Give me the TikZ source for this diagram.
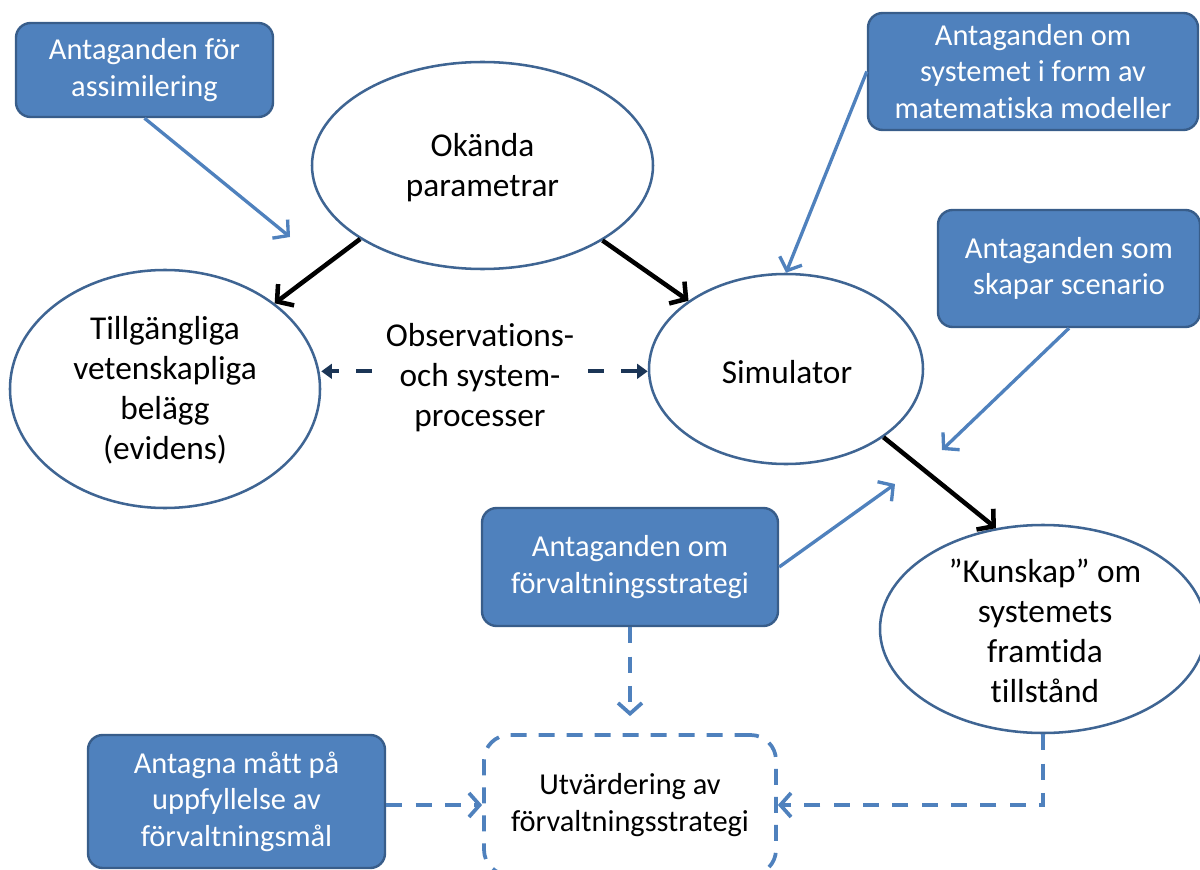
\documentclass[tikz,border=0pt]{standalone}
\usepackage{fontspec}
\setmainfont{Carlito}[Ligatures=NoCommon]
\usetikzlibrary{shapes.geometric,arrows.meta}
\definecolor{boxblue}{HTML}{4F81BD}
\definecolor{boxedge}{HTML}{385D8A}
\definecolor{elledge}{HTML}{3F6593}
\definecolor{obsnavy}{HTML}{1B3556}
\begin{document}
\begin{tikzpicture}[x=0.75pt,y=-0.75pt,
  ell/.style={ellipse, draw=elledge, line width=1.9pt, fill=white, inner sep=0pt},
  etext/.style={align=center, font=\fontsize{25}{30}\selectfont, inner sep=0pt},
  bluebox/.style={rectangle, rounded corners=11pt, draw=boxedge, fill=boxblue, line width=1.8pt,
    text=white, align=center, font=\fontsize{22.8}{27.4}\selectfont, inner sep=0pt},
  evalbox/.style={rectangle, rounded corners=19pt, draw=boxblue, line width=2.8pt,
    dash pattern=on 12pt off 9pt, align=center, font=\fontsize{22.8}{27.4}\selectfont, inner sep=0pt},
  blackarr/.style={draw=black, line width=3.4pt, -{Straight Barb[length=8.5pt,width=20pt]}},
  bluearr/.style={draw=boxblue, line width=2.5pt, -{Straight Barb[length=8pt,width=18pt]}},
  bluedash/.style={draw=boxblue, line width=2.8pt, dash pattern=on 12pt off 10pt, -{Straight Barb[length=8pt,width=18pt]}},
  navyarr/.style={draw=obsnavy, line width=3pt, dash pattern=on 12pt off 13pt, -{Triangle[length=8pt,width=11pt]}}
]
\useasboundingbox (0,0) rectangle (1200,870);
\clip (0,0) rectangle (1200,870);

% ellipses
\node[ell, minimum width=255.75pt, minimum height=155.25pt] (okand) at (482.5,165.5) {};
\node[etext] at (482.5,168) {Okända\\parametrar};
\node[ell, minimum width=232.5pt, minimum height=178.5pt] (evid) at (165,389) {};
\node[etext] at (165,390) {Tillgängliga\\vetenskapliga\\belägg\\(evidens)};
\node[ell, minimum width=205.5pt, minimum height=142.5pt] (sim) at (786,369) {};
\node[etext] at (787,372) {Simulator};
\node[ell, minimum width=244.5pt, minimum height=156pt] (kunsk) at (1043,629) {};
\node[etext] at (1045,631) {”Kunskap” om\\systemets\\framtida\\tillstånd};

\node[etext] (obs) at (480,378) {Observations-\\och system-\\processer};

% blue boxes
\node[bluebox, minimum width=192.75pt, minimum height=70.5pt] (b1) at (144.5,70) {Antaganden för\\assimilering};
\node[bluebox, minimum width=247.5pt, minimum height=87.75pt] (b2) at (1033,71.5) {Antaganden om\\systemet i form av\\matematiska modeller};
\node[bluebox, minimum width=196.5pt, minimum height=87.75pt] (b3) at (1069,268.5) {Antaganden som\\skapar scenario};
\node[bluebox, minimum width=222pt, minimum height=88.5pt] (b4) at (630,567) {Antaganden om\\förvaltningsstrategi};
\node[bluebox, minimum width=222.75pt, minimum height=99.75pt] (b5) at (236.5,801.5) {Antagna mått på\\uppfyllelse av\\förvaltningsmål};
\node[evalbox, minimum width=219pt, minimum height=105pt] (eval) at (630,805) {Utvärdering av\\förvaltningsstrategi};

% free ends
\coordinate (p1) at (290,237);
\coordinate (p3) at (942,450);
\coordinate (p4) at (895,484);

% black arrows
\draw[blackarr] (okand.211) -- (evid.38);
\draw[blackarr] (okand.328.4) -- (sim.145);
\draw[blackarr] (sim.325) -- (kunsk.115);

% blue arrows
\draw[bluearr] (b1.south) -- (p1);
\draw[bluearr] (b2.west) -- (sim.north);
\draw[bluearr] (b3.south) -- (p3);
\draw[bluearr] (b4.east) -- (p4);

% dashed navy arrows
\draw[navyarr, shorten <=10pt] ([yshift=5pt]obs.west) -- ([yshift=5pt]obs.west -| evid.east);
\draw[navyarr, shorten <=10pt] ([yshift=5pt]obs.east) -- ([yshift=5pt]obs.east -| sim.west);

% dashed blue arrows
\draw[bluedash] (b4.south) -- ([yshift=12.75pt]eval.north);
\draw[bluedash] (b5.east |- eval.west) -- (eval.west);
\draw[bluedash] (kunsk.south) |- (eval.east);
\end{tikzpicture}
\end{document}
